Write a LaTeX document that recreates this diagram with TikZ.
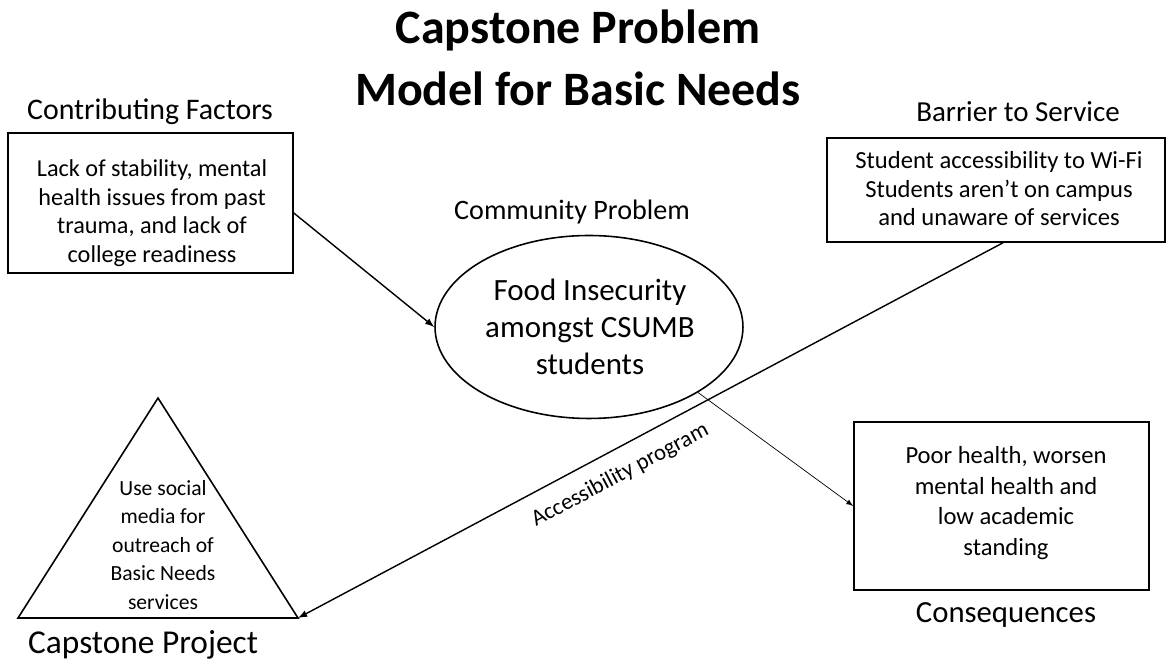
\documentclass[tikz,border=0pt]{standalone}
\usepackage{fontspec}
\setmainfont{Carlito}
\usetikzlibrary{arrows}
\usetikzlibrary{shapes.geometric}

\begin{document}
\begin{tikzpicture}[x=0.02cm, y=-0.02cm,
	heading/.style={font=\fontsize{#1}{#1}\selectfont},
	boxtext/.style={align=center, font=\fontsize{#1}{16.2}\selectfont},
	framed/.style={draw, line width=0.9pt, inner sep=0pt},
	link/.style={-latex, line width=0.8pt}]
	\useasboundingbox (0,0) rectangle (1167,661);
	\node[align=center, font=\bfseries\fontsize{27.3}{35}\selectfont] (title) at (578,58) {Capstone Problem\\Model for Basic Needs};
	% the four shapes
	\node[framed, minimum width=5.7cm, minimum height=2.8cm] (factors) at (150.5,203) {};
	\node[boxtext=13.8] (factors-text) at (152,213) {Lack of stability, mental\\health issues from past\\trauma, and lack of\\college readiness};
	\node[framed, minimum width=6.76cm, minimum height=2.08cm] (barrier) at (996,190) {};
	\node[boxtext=14] (barrier-text) at (999,189) {Student accessibility to Wi-Fi\\Students aren't on campus\\and unaware of services};
	\node[framed, minimum width=5.9cm, minimum height=3.36cm] (conseq) at (1001.5,506) {};
	\node[align=center, font=\fontsize{14}{17.3}\selectfont] (conseq-text) at (1006,503) {Poor health, worsen\\mental health and\\low academic\\standing};
	\node[draw, ellipse, line width=0.9pt, minimum width=6.16cm, minimum height=3.66cm] (problem) at (589,327) {};
	\node[align=center, font=\fontsize{17.6}{21}\selectfont] (problem-text) at (590,327) {Food Insecurity\\amongst CSUMB\\students};
	\draw[line width=0.9pt] (158,398) coordinate (apex) -- (298,618) coordinate (corner) -- (18,618) -- cycle;
	\node[boxtext=12.3] (project-text) at (163,545) {Use social\\media for\\outreach of\\Basic Needs\\services};
	% headings
	\node[heading=17] (factors-label) at (150,112) {Contributing Factors};
	\node[heading=16.5] (barrier-label) at (1018,112) {Barrier to Service};
	\node[heading=16] (problem-label) at (572,212) {Community Problem};
	\node[heading=17.5] (conseq-label) at (1006,615) {Consequences};
	\node[heading=19] (project-label) at (143,645) {Capstone Project};
	% links
	\draw[link] ([yshift=-0.2cm]factors.east) -- (problem.west);
	\draw[-latex, line width=0.4pt] (problem.-31) -- (conseq.west);
	\draw[latex-, line width=0.8pt] (corner) -- node[sloped, below=0.18cm, pos=0.44, font=\fontsize{13}{15}\selectfont] {Accessibility program} ([xshift=0.14cm]barrier.south);
\end{tikzpicture}
\end{document}
